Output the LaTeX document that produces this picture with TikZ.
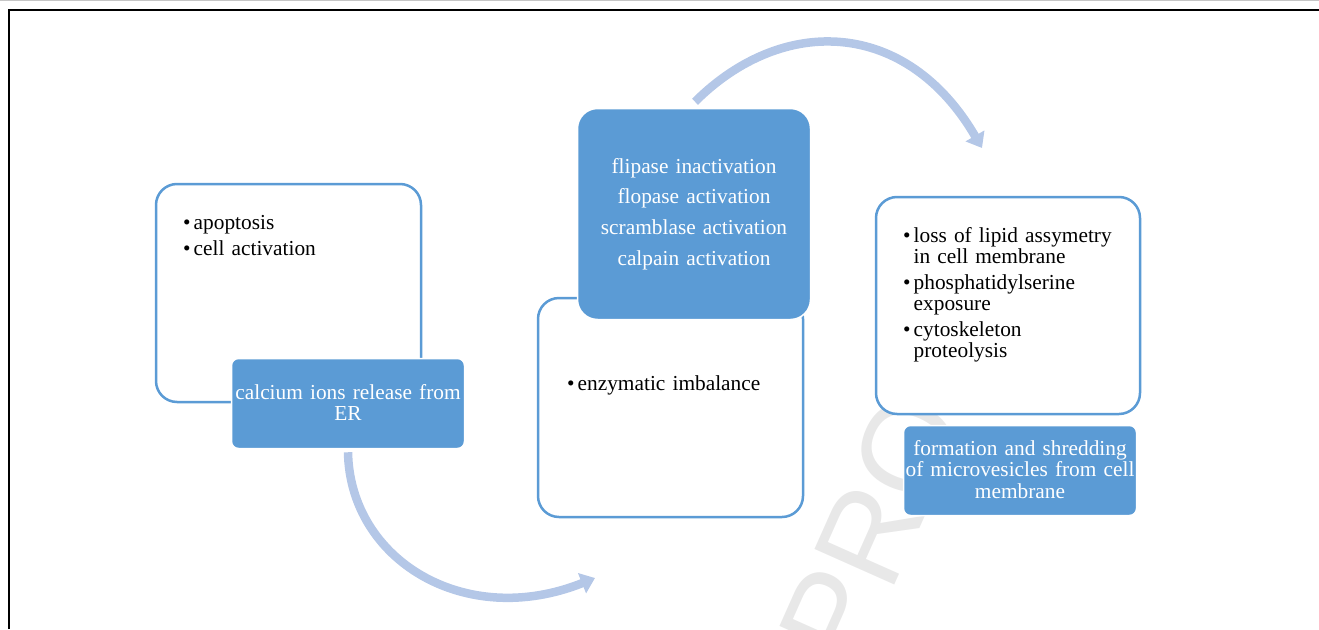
\documentclass[tikz,border=0pt]{standalone}
\usepackage{fontspec}
\setmainfont{Liberation Serif}
\newfontfamily\markfont{Liberation Sans}
\usetikzlibrary{arrows.meta,positioning}
\definecolor{boxblue}{HTML}{5B9BD5}
\definecolor{arrowblue}{HTML}{B4C7E7}
\definecolor{markgray}{HTML}{E8E8E8}
\newcommand{\bul}[1]{\makebox[10.5pt][l]{\textbullet}#1}
\newcommand{\hang}{\hspace*{10.5pt}}
\tikzset{
  whitebox/.style={draw=boxblue, line width=2.5pt, fill=white, rounded corners=21pt, inner sep=0pt},
  bluebox/.style={draw=white, line width=1.5pt, fill=boxblue, rounded corners=7pt, inner sep=0pt},
  boxtext/.style={inner sep=0pt, font=\fontsize{21.35}{20.8}\selectfont},
  bluetext/.style={inner sep=0pt, anchor=base, text width=260pt, align=center, text=white,
    font=\fontsize{21.35}{21.7}\selectfont},
  cyclearrow/.style={draw=arrowblue, line width=8.5pt, -{Triangle[width=21pt,length=14pt]}}
}
\begin{document}
\begin{tikzpicture}[x=1pt,y=-1pt]
\useasboundingbox (0,0) rectangle (1319,629);
% watermark and frame
\node[font=\markfont\fontsize{127}{127}\selectfont, text=markgray, rotate=66, inner sep=0pt] (mark) at (872,528) {PRO};
\draw[gray!45, line width=0.8pt] (0,0.5) -- (1319,0.5);
\draw[line width=1.6pt] (9,629) -- (9,10) -- (1319,10);

% step 1
\node[whitebox, minimum width=265pt, minimum height=218pt] (causes) at (288.5,293) {};
\node[bluebox, minimum width=233pt, minimum height=90pt] (calcium) at (348,403.5) {};
\node[boxtext, anchor=base west, text width=230pt, align=left] (causestext) at (183,229.3)
  {\bul{apoptosis}\\[5.2pt]\bul{cell activation}};
\node[bluetext] (calciumtext) at (348,399)
  {calcium ions release from\\ER};

% step 2
\node[whitebox, minimum width=265pt, minimum height=219pt] (imbalance) at (670.5,407.5) {};
\node[bluebox, rounded corners=20pt, minimum width=233pt, minimum height=211pt] (enzymes) at (694,214) {};
\node[boxtext, anchor=base west, text width=230pt, align=left] (imbalancetext) at (567,390)
  {\bul{enzymatic imbalance}};
\node[bluetext] (enzymestext) at (694,173)
  {flipase inactivation\\[9pt]flopase activation\\[9pt]scramblase activation\\[9pt]calpain activation};

% step 3
\node[whitebox, minimum width=264pt, minimum height=217pt] (membrane) at (1008,305.5) {};
\node[bluebox, minimum width=233pt, minimum height=90pt] (vesicles) at (1020,470.5) {};
\node[boxtext, anchor=base west, text width=230pt, align=left] (membranetext) at (903,242.7)
  {\bul{loss of lipid assymetry}\\\hang in cell membrane\\[5.5pt]\bul{phosphatidylserine}\\\hang exposure\\[5.5pt]\bul{cytoskeleton}\\\hang proteolysis};
\node[bluetext] (vesiclestext) at (1020,455)
  {formation and shredding\\of microvesicles from cell\\membrane};

% arrows
\coordinate (calcium-out) at ([yshift=-3pt]calcium.south);
\coordinate (imbalance-in) at (595,578);
\coordinate (enzymes-out) at ([xshift=1pt,yshift=6pt]enzymes.north);
\coordinate (membrane-in) at (982,148);
\draw[cyclearrow] (calcium-out) .. controls (350,560) and (465,630) .. (imbalance-in);
\draw[cyclearrow] (enzymes-out) .. controls (783,14) and (907,19) .. (membrane-in);
\end{tikzpicture}
\end{document}
